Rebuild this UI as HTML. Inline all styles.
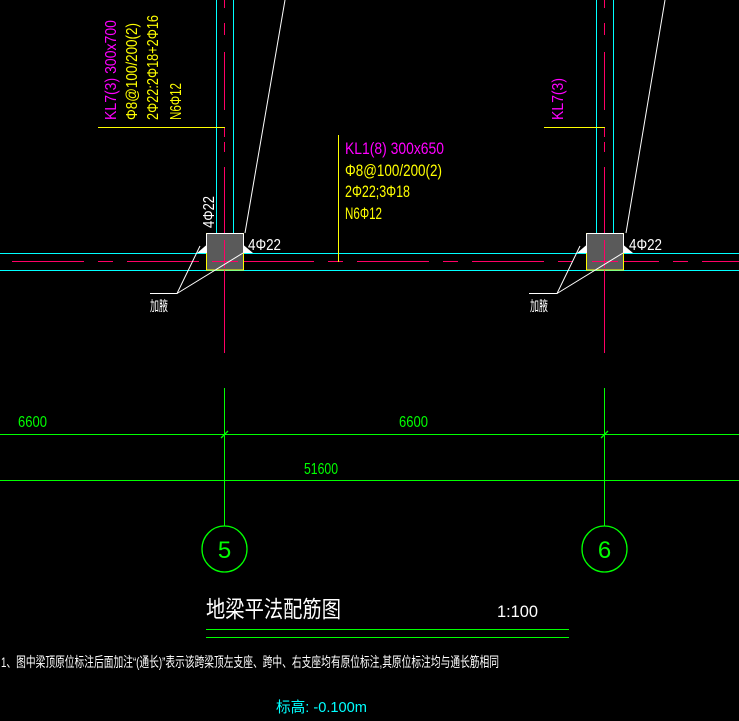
<!DOCTYPE html>
<html><head><meta charset="utf-8"><style>
html,body{margin:0;padding:0;background:#000;}
svg{display:block;}
text{font-family:"Liberation Sans Narrow","Liberation Sans","Noto Sans CJK SC",sans-serif;}
line,path,polyline,rect{shape-rendering:crispEdges;}
</style></head><body>
<svg width="739" height="721" viewBox="0 0 739 721" xmlns="http://www.w3.org/2000/svg">
<rect width="739" height="721" fill="#000"/>
<line x1="0" y1="253.5" x2="739" y2="253.5" stroke="#00ffff" stroke-width="1"/>
<line x1="0" y1="270.5" x2="739" y2="270.5" stroke="#00ffff" stroke-width="1"/>
<line x1="12" y1="261.5" x2="739" y2="261.5" stroke="#ff0066" stroke-width="1" stroke-dasharray="72 14 15 14"/>
<line x1="216.5" y1="0" x2="216.5" y2="233" stroke="#00ffff"/>
<line x1="233.5" y1="0" x2="233.5" y2="233" stroke="#00ffff"/>
<line x1="596.5" y1="0" x2="596.5" y2="233" stroke="#00ffff"/>
<line x1="613.5" y1="0" x2="613.5" y2="233" stroke="#00ffff"/>
<g stroke="#ff0066" stroke-width="1.3">
<path d="M224.5 0V8M224.5 23V35M224.5 52V110M224.5 128V137M224.5 142V152M224.5 167V282M224.5 282V353"/>
<path d="M604.5 0V8M604.5 23V35M604.5 52V110M604.5 128V137M604.5 142V152M604.5 167V282M604.5 282V353"/>
</g>
<g>
<rect x="206.5" y="233.5" width="37" height="36.5" fill="#5a5a5a" stroke="#ffff00"/>
<line x1="206.5" y1="233.5" x2="243.5" y2="233.5" stroke="#fff"/>
<line x1="206.5" y1="233.5" x2="206.5" y2="253" stroke="#fff"/>
<line x1="243.5" y1="233.5" x2="243.5" y2="253" stroke="#fff"/>
<line x1="224.5" y1="240" x2="224.5" y2="268" stroke="#ff0066" stroke-width="1.3"/>
<line x1="212" y1="261.5" x2="238" y2="261.5" stroke="#ff0066" stroke-width="1"/>
<polygon points="197,253 206.5,245 206.5,253" fill="#fff"/>
<polygon points="243.5,245 253,253 243.5,253" fill="#fff"/>
</g>
<g>
<rect x="586.5" y="233.5" width="37" height="36.5" fill="#5a5a5a" stroke="#ffff00"/>
<line x1="586.5" y1="233.5" x2="623.5" y2="233.5" stroke="#fff"/>
<line x1="586.5" y1="233.5" x2="586.5" y2="253" stroke="#fff"/>
<line x1="623.5" y1="233.5" x2="623.5" y2="253" stroke="#fff"/>
<line x1="604.5" y1="240" x2="604.5" y2="268" stroke="#ff0066" stroke-width="1.3"/>
<line x1="592" y1="261.5" x2="618" y2="261.5" stroke="#ff0066" stroke-width="1"/>
<polygon points="577,253 586.5,245 586.5,253" fill="#fff"/>
<polygon points="623.5,245 633,253 623.5,253" fill="#fff"/>
</g>
<g stroke="#fff" stroke-width="1" fill="none">
<line x1="245" y1="233" x2="285" y2="0" style="shape-rendering:auto"/>
<line x1="626" y1="233" x2="665" y2="0" style="shape-rendering:auto"/>
<polyline points="150,293.5 177,293.5 200,246" style="shape-rendering:auto"/>
<line x1="177" y1="293.5" x2="243" y2="253" style="shape-rendering:auto"/>
<polyline points="529,293.5 557,293.5 580,246" style="shape-rendering:auto"/>
<line x1="557" y1="293.5" x2="623" y2="253" style="shape-rendering:auto"/>
</g>
<text x="150" y="311" fill="#fff" font-size="14" textLength="18" lengthAdjust="spacingAndGlyphs">加腋</text>
<text x="530" y="311" fill="#fff" font-size="14" textLength="18" lengthAdjust="spacingAndGlyphs">加腋</text>
<text x="248" y="250" fill="#fff" font-size="16" textLength="33" lengthAdjust="spacingAndGlyphs">4Φ22</text>
<text x="629" y="250" fill="#fff" font-size="16" textLength="33" lengthAdjust="spacingAndGlyphs">4Φ22</text>
<text transform="translate(214,228) rotate(-90)" fill="#fff" font-size="16" textLength="32" lengthAdjust="spacingAndGlyphs">4Φ22</text>
<line x1="98" y1="127.5" x2="225" y2="127.5" stroke="#ffff00"/>
<line x1="544" y1="127.5" x2="605" y2="127.5" stroke="#ffff00"/>
<line x1="338.5" y1="135" x2="338.5" y2="262" stroke="#ffff00"/>
<text transform="translate(116,120) rotate(-90)" fill="#ff00ff" font-size="16" textLength="100" lengthAdjust="spacingAndGlyphs">KL7(3) 300x700</text>
<text transform="translate(137,120) rotate(-90)" fill="#ffff00" font-size="16" textLength="97" lengthAdjust="spacingAndGlyphs">Φ8@100/200(2)</text>
<text transform="translate(158,120) rotate(-90)" fill="#ffff00" font-size="16" textLength="105" lengthAdjust="spacingAndGlyphs">2Φ22:2Φ18+2Φ16</text>
<text transform="translate(181,120) rotate(-90)" fill="#ffff00" font-size="16" textLength="37" lengthAdjust="spacingAndGlyphs">N6Φ12</text>
<text transform="translate(563,120) rotate(-90)" fill="#ff00ff" font-size="16" textLength="42" lengthAdjust="spacingAndGlyphs">KL7(3)</text>
<text x="345" y="154" fill="#ff00ff" font-size="17" textLength="99" lengthAdjust="spacingAndGlyphs">KL1(8) 300x650</text>
<text x="345" y="176" fill="#ffff00" font-size="17" textLength="97" lengthAdjust="spacingAndGlyphs">Φ8@100/200(2)</text>
<text x="345" y="197" fill="#ffff00" font-size="17" textLength="65" lengthAdjust="spacingAndGlyphs">2Φ22;3Φ18</text>
<text x="345" y="219" fill="#ffff00" font-size="17" textLength="37" lengthAdjust="spacingAndGlyphs">N6Φ12</text>
<g stroke="#00ff00" stroke-width="1.3" fill="none">
<line x1="224.5" y1="388" x2="224.5" y2="526"/>
<line x1="604.5" y1="388" x2="604.5" y2="526"/>
<line x1="0" y1="434.5" x2="739" y2="434.5"/>
<line x1="0" y1="480.5" x2="739" y2="480.5"/>
<line x1="221" y1="438" x2="228" y2="431" style="shape-rendering:auto"/>
<line x1="601" y1="438" x2="608" y2="431" style="shape-rendering:auto"/>
<ellipse cx="224.5" cy="549" rx="22.5" ry="23"/>
<ellipse cx="604.5" cy="549" rx="22.5" ry="23"/>
</g>
<text x="18" y="427" fill="#00ff00" font-size="16" textLength="29" lengthAdjust="spacingAndGlyphs">6600</text>
<text x="399" y="427" fill="#00ff00" font-size="16" textLength="29" lengthAdjust="spacingAndGlyphs">6600</text>
<text x="304" y="474" fill="#00ff00" font-size="16" textLength="34" lengthAdjust="spacingAndGlyphs">51600</text>
<text x="224.5" y="558" fill="#00ff00" font-size="24" text-anchor="middle">5</text>
<text x="604.5" y="558" fill="#00ff00" font-size="24" text-anchor="middle">6</text>
<text x="206" y="617" fill="#fff" font-size="23" textLength="135" lengthAdjust="spacingAndGlyphs">地梁平法配筋图</text>
<text x="497" y="617" fill="#fff" font-size="17" textLength="41" lengthAdjust="spacingAndGlyphs">1:100</text>
<line x1="206" y1="629.5" x2="569" y2="629.5" stroke="#00ff00"/>
<line x1="206" y1="637.5" x2="569" y2="637.5" stroke="#00ff00"/>
<text x="1" y="667" fill="#fff" font-size="14" textLength="498" lengthAdjust="spacingAndGlyphs">1、图中梁顶原位标注后面加注“(通长)”表示该跨梁顶左支座、跨中、右支座均有原位标注,其原位标注均与通长筋相同</text>
<text x="276" y="712" fill="#00ffff" font-size="15" textLength="91" lengthAdjust="spacingAndGlyphs">标高: -0.100m</text>
</svg>
</body></html>
